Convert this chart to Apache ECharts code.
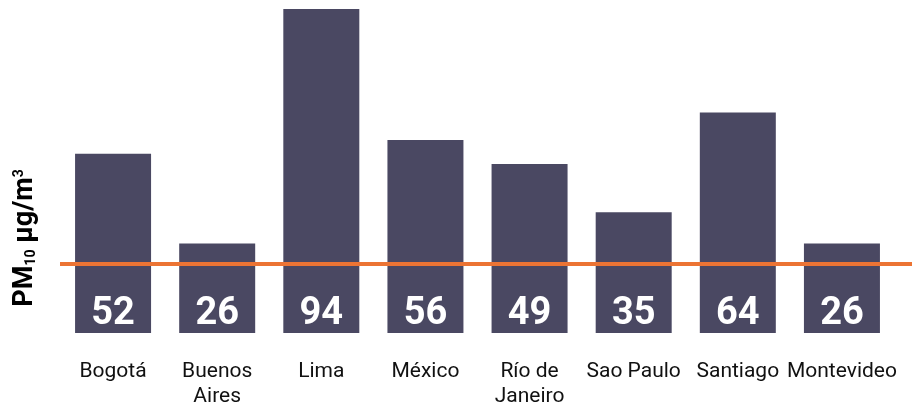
<!DOCTYPE html>
<html>
<head>
<meta charset="utf-8">
<script src="https://cdn.jsdelivr.net/npm/echarts@6/dist/echarts.min.js"></script>
<style>html,body{margin:0;padding:0;background:#fff}#c{width:912px;height:407px}</style>
</head>
<body>
<div id="c"></div>
<script>
const cities = ['Bogotá', 'Buenos\nAires', 'Lima', 'México', 'Río de\nJaneiro', 'Sao Paulo', 'Santiago', 'Montevideo'];
const pm10 = [52, 26, 94, 56, 49, 35, 64, 26];
const guideline = 20;
const guideX = [0, 1];

const chart = echarts.init(document.getElementById('c'), null, {renderer: 'canvas'});
chart.setOption({
  animation: false,
  textStyle: {fontFamily: 'Roboto'},
  grid: [
    {left: 61, right: 18, top: 9, bottom: 74, outerBoundsMode: 'none', containLabel: false},
    {left: 60, right: 0, top: 9, bottom: 74, outerBoundsMode: 'none', containLabel: false}
  ],
  xAxis: [
    {
      type: 'category', data: cities, gridIndex: 0,
      axisLine: {show: false}, axisTick: {show: false},
      axisLabel: {interval: 0, margin: 26, fontSize: 21, lineHeight: 25, color: '#111', fontFamily: 'Roboto'}
    },
    {type: 'value', gridIndex: 1, min: 0, max: 1, show: false}
  ],
  yAxis: [
    {type: 'value', gridIndex: 0, min: 0, max: 94, show: false, splitLine: {show: false}},
    {type: 'value', gridIndex: 1, min: 0, max: 94, show: false, splitLine: {show: false}}
  ],
  graphic: [{
    type: 'text', x: 25, y: 238, rotation: Math.PI / 2,
    style: {
      text: '{a|PM}{b|10}{a| µg/m}{c|3}',
      align: 'center', verticalAlign: 'middle',
      rich: {
        a: {fontFamily: 'Roboto', fontWeight: 'bold', fontSize: 27, color: '#000', lineHeight: 32},
        b: {fontFamily: 'Roboto', fontWeight: 'bold', fontSize: 14, color: '#000', lineHeight: 32, verticalAlign: 'bottom', padding: [0, 0, 3, 0]},
        c: {fontFamily: 'Roboto', fontWeight: 'bold', fontSize: 14, color: '#000', lineHeight: 32, verticalAlign: 'top', padding: [3, 0, 0, 0]}
      }
    }
  }],
  series: [
    {
      type: 'bar', data: pm10, xAxisIndex: 0, yAxisIndex: 0,
      barWidth: 76,
      itemStyle: {color: '#4a4862'},
      label: {
        show: true, position: 'insideBottom', distance: 0,
        color: '#fff', fontSize: 38, fontWeight: 'bold', fontFamily: 'Roboto'
      }
    },
    {
      type: 'line', xAxisIndex: 1, yAxisIndex: 1, z: 5,
      data: guideX.map(x => [x, guideline]),
      symbol: 'none',
      lineStyle: {color: '#ec7434', width: 4}
    }
  ]
});
</script>
</body>
</html>
